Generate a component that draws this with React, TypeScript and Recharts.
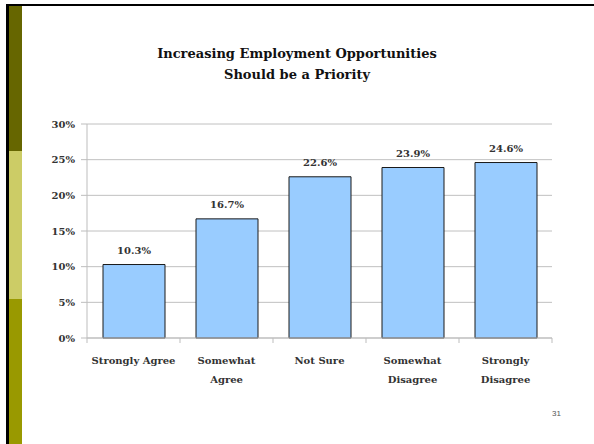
import React from 'react';
import { BarChart, Bar, XAxis, YAxis, CartesianGrid, LabelList } from 'recharts';

const categories = ['Strongly Agree', 'Somewhat\nAgree', 'Not Sure', 'Somewhat\nDisagree', 'Strongly\nDisagree'];
const shares = [10.3, 16.7, 22.6, 23.9, 24.6];
const yTicks = [0, 5, 10, 15, 20, 25, 30];

const data = categories.map((c, i) => ({ name: c, value: shares[i] }));

const W = 594;
const H = 444;
const X_HEIGHT = 30;
const MARGIN = { top: 124, right: 42, bottom: 106 - X_HEIGHT, left: 27 };
const Y_WIDTH = 60;
const PLOT_W = W - MARGIN.left - MARGIN.right - Y_WIDTH;
const BAND = PLOT_W / categories.length;

const serif = '"DejaVu Serif", serif';

function CategoryTick(props: any) {
  const { x, y, payload, index } = props;
  const lines = String(payload.value).split('\n');
  return (
    <g>
      <line x1={x - BAND / 2} x2={x - BAND / 2} y1={y - 8} y2={y - 3} stroke="#bdbdbd" />
      {index === categories.length - 1 && (
        <line x1={x + BAND / 2} x2={x + BAND / 2} y1={y - 8} y2={y - 3} stroke="#bdbdbd" />
      )}
      <text x={x} y={y + 18} textAnchor="middle" fontFamily={serif} fontSize={10} fontWeight="bold" fill="#333">
        {lines.map((l, i) => (
          <tspan key={i} x={x} dy={i === 0 ? 0 : 19}>{l}</tspan>
        ))}
      </text>
    </g>
  );
}

export default function App() {
  return (
    <div style={{ position: 'absolute', left: 0, top: 0, width: W, height: H, background: '#fff', overflow: 'hidden' }}>
      {/* slide frame */}
      <div style={{ position: 'absolute', left: 6, top: 4, right: 0, height: 2, background: '#000' }} />
      <div style={{ position: 'absolute', left: 6, top: 4, width: 3, bottom: 0, background: '#000' }} />
      <div style={{ position: 'absolute', left: 9, top: 6, width: 13, height: 145, background: '#666600' }} />
      <div style={{ position: 'absolute', left: 9, top: 151, width: 13, height: 148, background: '#cccc66' }} />
      <div style={{ position: 'absolute', left: 9, top: 299, width: 13, bottom: 0, background: '#999900' }} />

      <div style={{ position: 'absolute', left: 0, top: 43, width: W, textAlign: 'center', fontFamily: serif, fontWeight: 'bold', fontSize: 13, lineHeight: '21px', color: '#111' }}>
        Increasing Employment Opportunities
        <br />
        Should be a Priority
      </div>

      <div style={{ position: 'absolute', left: 0, top: 0 }}>
        <BarChart width={W} height={H} data={data} margin={MARGIN}>
          <CartesianGrid vertical={false} stroke="#c0c0c0" />
          <XAxis
            dataKey="name"
            height={X_HEIGHT}
            stroke="#bdbdbd"
            tickLine={false}
            interval={0}
            tick={<CategoryTick />}
          />
          <YAxis
            width={Y_WIDTH}
            domain={[0, 30]}
            ticks={yTicks}
            stroke="#bdbdbd"
            tickSize={6}
            tickMargin={6}
            tickFormatter={(v: number) => `${v}%`}
            tick={{ fontFamily: serif, fontSize: 10, fontWeight: 'bold', fill: '#333' }}
          />
          <Bar dataKey="value" fill="#99ccff" stroke="#1a1a1a" strokeWidth={1} barSize={62} isAnimationActive={false}>
            <LabelList
              dataKey="value"
              position="top"
              offset={11}
              formatter={(v: number) => `${v.toFixed(1)}%`}
              style={{ fontFamily: serif, fontSize: 10, fontWeight: 'bold', fill: '#333' }}
            />
          </Bar>
        </BarChart>
      </div>

      <div style={{ position: 'absolute', left: 552, top: 409, fontFamily: 'Arial, "Liberation Sans", sans-serif', fontSize: 8, color: '#555' }}>31</div>
    </div>
  );
}
